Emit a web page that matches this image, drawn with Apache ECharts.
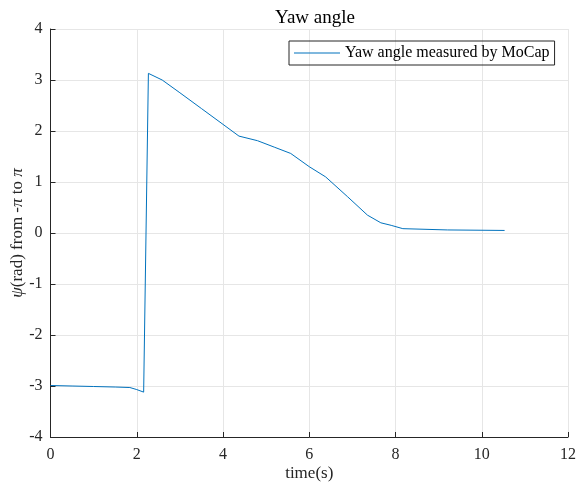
<!DOCTYPE html>
<html>
<head>
<meta charset="utf-8">
<script src="https://cdn.jsdelivr.net/npm/echarts@6/dist/echarts.min.js"></script>
<style>html,body{margin:0;padding:0;background:#fff}#c{width:576px;height:487px}</style>
</head>
<body>
<div id="c"></div>
<script>
const timeValues = [0, 0.5, 1.0, 1.5, 1.84, 2.0, 2.16, 2.27, 2.59, 3.0, 3.5, 4.0, 4.37, 4.8, 5.2, 5.57, 6.0, 6.38, 6.89, 7.35, 7.66, 7.9, 8.17, 9.21, 10.53];
const yawValues  = [-2.99, -3.00, -3.01, -3.02, -3.03, -3.07, -3.12, 3.13, 3.00, 2.75, 2.44, 2.13, 1.90, 1.81, 1.68, 1.56, 1.30, 1.10, 0.71, 0.35, 0.20, 0.15, 0.085, 0.06, 0.05];
const xTicks = [0, 2, 4, 6, 8, 10, 12];
const yTicks = [-4, -3, -2, -1, 0, 1, 2, 3, 4];
const seriesName = 'Yaw angle measured by MoCap';

const font = 'Liberation Serif';
const axisColor = '#262626';
const chart = echarts.init(document.getElementById('c'));
chart.setOption({
  animation: false,
  backgroundColor: '#fff',
  title: {
    text: 'Yaw angle', left: 310, top: 4, textAlign: 'center',
    textStyle: {fontFamily: font, fontSize: 19, fontWeight: 'normal', color: '#000'}
  },
  legend: {
    data: [seriesName], left: 289, top: 41,
    borderColor: '#262626', borderWidth: 1, padding: [4, 5, 4, 5],
    icon: 'rect', itemWidth: 46, itemHeight: 1, itemGap: 4,
    textStyle: {fontFamily: font, fontSize: 16, color: '#000', padding: [0, 0, 0, 0]}
  },
  grid: {left: 50.5, right: 8, top: 29, bottom: 50, containLabel: false, outerBoundsMode: 'none'},
  xAxis: {
    type: 'value', min: xTicks[0], max: xTicks[xTicks.length - 1], interval: 2,
    name: 'time(s)', nameLocation: 'middle', nameGap: 28, nameMoveOverlap: false,
    nameTextStyle: {fontFamily: font, fontSize: 17, color: '#262626'},
    axisLine: {show: true, onZero: false, lineStyle: {color: axisColor, width: 1}},
    axisTick: {show: true, inside: true, length: 5, lineStyle: {color: axisColor}},
    axisLabel: {fontFamily: font, fontSize: 16, color: '#262626', margin: 10},
    splitLine: {show: true, lineStyle: {color: '#e6e6e6', width: 1}}
  },
  yAxis: {
    type: 'value', min: yTicks[0], max: yTicks[yTicks.length - 1], interval: 1,
    name: '{i|ψ}(rad) from -{i|π} to {i|π}', nameLocation: 'middle', nameGap: 24, nameRotate: 90,
    nameMoveOverlap: false,
    nameTextStyle: {fontFamily: font, fontSize: 17, color: '#262626',
      rich: {i: {fontFamily: font, fontSize: 17, fontStyle: 'italic', color: '#262626'}}},
    axisLine: {show: true, onZero: false, lineStyle: {color: axisColor, width: 1}},
    axisTick: {show: true, inside: true, length: 5, lineStyle: {color: axisColor}},
    axisLabel: {fontFamily: font, fontSize: 16, color: '#262626', margin: 8},
    splitLine: {show: true, lineStyle: {color: '#e6e6e6', width: 1}}
  },
  series: [{
    name: seriesName, type: 'line', symbol: 'none', smooth: false,
    lineStyle: {color: '#0072BD', width: 1},
    itemStyle: {color: '#0072BD'},
    data: timeValues.map((t, i) => [t, yawValues[i]])
  }]
});
</script>
</body>
</html>
